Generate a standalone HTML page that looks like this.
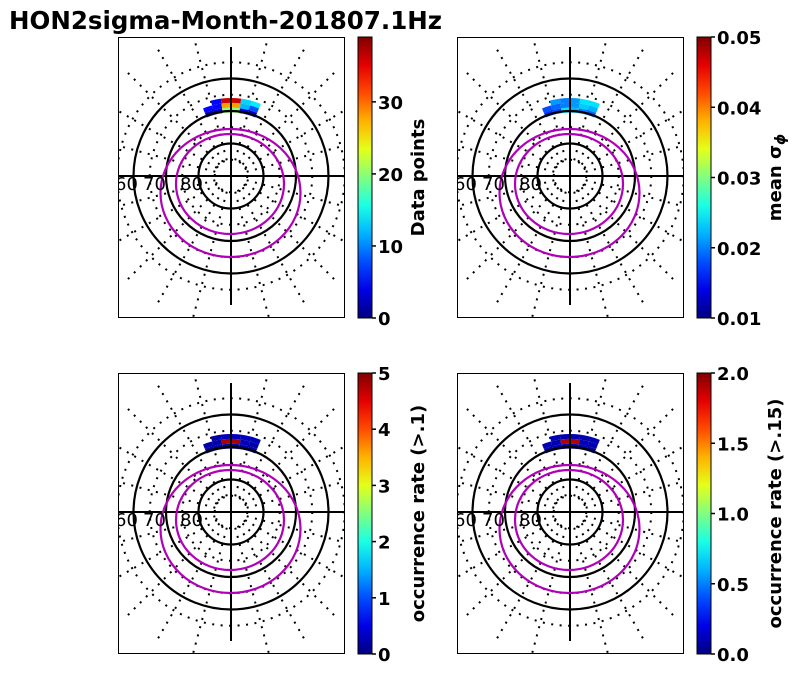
<!DOCTYPE html>
<html><head><meta charset="utf-8"><style>
html,body{margin:0;padding:0;background:#fff;}
svg{display:block;font-family:"DejaVu Sans","Liberation Sans",sans-serif;}
</style></head><body>
<svg id="fig" width="799" height="674" viewBox="0 0 799 674">
<text x="9" y="29" font-size="24.5" font-weight="bold">HON2sigma-Month-201807.1Hz</text>
</svg>
<script>
// shared bin grid: angle bins (deg from noon, clockwise) and latitude rows
const binAngles = [-30, -22.5, -15, -7.5, 0, 7.5, 15];
const binLats = [66, 67.5, 69];
// panel data (rows = latitudes, columns = angle bins)
const countValues = [[null, null, 5, 36, 36, 13, 14],[null, 5, 5, 28, 28, 12, 8],[null, 2, 3, 20, 20, 4, 3]];
const sigmaValues = [[null, null, 0.021, 0.02, 0.021, 0.024, 0.024],[null, 0.018, 0.019, 0.02, 0.021, 0.023, 0.022],[null, 0.017, 0.018, 0.024, 0.022, 0.02, 0.019]];
const occ1Values = [[null, null, 0.2, 0.3, 0.3, 0.3, 0.3],[null, 0.2, 0.2, 4.8, 4.8, 0.3, 0.2],[null, 0.2, 0.2, 0.2, 0.2, 0.2, 0.2]];
const occ2Values = [[null, null, 0.1, 0.1, 0.1, 0.1, 0.1],[null, 0.1, 0.1, 1.9, 1.9, 0.1, 0.1],[null, 0.1, 0.1, 0.1, 0.1, 0.1, 0.1]];
const countTicks = [0, 10, 20, 30];
const sigmaTicks = ["0.01", "0.02", "0.03", "0.04", "0.05"];
const occ1Ticks = [0, 1, 2, 3, 4, 5];
const occ2Ticks = ["0.0", "0.5", "1.0", "1.5", "2.0"];

const NS = "http://www.w3.org/2000/svg";
const svg = document.getElementById('fig');
function mk(tag, attrs, parent) {
  const e = document.createElementNS(NS, tag);
  for (const k in attrs) e.setAttribute(k, attrs[k]);
  (parent || svg).appendChild(e);
  return e;
}
function jet(t) {
  t = Math.max(0, Math.min(1, t));
  const f = x => Math.max(0, Math.min(1, 1.5 - Math.abs(x)));
  const r = f(4 * t - 3), g = f(4 * t - 2), b = f(4 * t - 1);
  return `rgb(${Math.round(r*255)},${Math.round(g*255)},${Math.round(b*255)})`;
}
const SC = 3.25;
function rOf(lat) { return (90 - lat) * SC; }
function pt(cx, cy, r, deg) { const a = deg * Math.PI / 180; return [cx + r * Math.sin(a), cy - r * Math.cos(a)]; }
const DOT = {stroke:'#000', 'stroke-width':2, 'stroke-dasharray':'2 6.5', fill:'none'};

const panels = [
  {x:118, y:37, vals:countValues, vmin:0, vmax:39, ticks:countTicks, label:"Data points", name:"data-points"},
  {x:457, y:37, vals:sigmaValues, vmin:0.01, vmax:0.05, ticks:sigmaTicks, label:"mean σ", sub:"ϕ", name:"mean-sigma"},
  {x:118, y:373, vals:occ1Values, vmin:0, vmax:5, ticks:occ1Ticks, label:"occurrence rate (>.1)", name:"occurrence-1"},
  {x:457, y:373, vals:occ2Values, vmin:0, vmax:2, ticks:occ2Ticks, label:"occurrence rate (>.15)", name:"occurrence-15"}
];
const W = 227, H = 281;
panels.forEach((p, pi) => {
  const cx = p.x + 113, cy = p.y + 139;
  const clip = mk('clipPath', {id:'clip' + pi});
  mk('rect', {x:p.x, y:p.y, width:W, height:H}, clip);
  const g = mk('g', {'clip-path':`url(#clip${pi})`});
  
  
  [85, 75, 65, 55].forEach(l => {
    const c = mk('circle', Object.assign({cx, cy, r:rOf(l)}, DOT), g);
    
    
  });
  for (let a = 0; a < 360; a += 15) {
    if (a % 90 === 0) continue;
    const [x1, y1] = pt(cx, cy, rOf(85), a), [x2, y2] = pt(cx, cy, 150, a);
    const l = mk('line', Object.assign({x1, y1, x2, y2}, DOT), g);
    
    
  }
  p.vals.forEach((row, ri) => {
    row.forEach((v, ci) => {
      if (v === null) return;
      const a0 = binAngles[ci], a1 = a0 + 7.5;
      const r0 = rOf(binLats[ri]), r1 = rOf(binLats[ri] + 1.5);
      const [ax, ay] = pt(cx, cy, r0, a0), [bx, by] = pt(cx, cy, r0, a1), [c1x, c1y] = pt(cx, cy, r1, a1), [dx, dy] = pt(cx, cy, r1, a0);
      const d = `M${ax},${ay} A${r0},${r0} 0 0 1 ${bx},${by} L${c1x},${c1y} A${r1},${r1} 0 0 0 ${dx},${dy} Z`;
      const b = mk('path', {d, fill:jet((v - p.vmin) / (p.vmax - p.vmin))}, g);
      
      
    });
  });
  [80, 70, 60].forEach(l => {
    const c = mk('circle', {cx, cy, r:rOf(l), fill:'none', stroke:'#000', 'stroke-width':2.2}, g);
    
    
  });
  const hl = mk('line', {x1:p.x, y1:cy, x2:p.x + W, y2:cy, stroke:'#000', 'stroke-width':2}, g);
  
  
  const vl = mk('line', {x1:cx, y1:p.y + 10, x2:cx, y2:p.y + 268, stroke:'#000', 'stroke-width':2}, g);
  
  
  const o1 = mk('ellipse', {cx:cx - 1, cy:cy + 8, rx:54, ry:50, fill:'none', stroke:'#b000b8', 'stroke-width':2.2}, g);
  
  
  const o2 = mk('ellipse', {cx:cx - 0.5, cy:cy + 17, rx:70, ry:64, fill:'none', stroke:'#b000b8', 'stroke-width':2.2}, g);
  
  
  [["60", p.x - 3], ["70", p.x + 25], ["80", p.x + 62]].forEach(([t, x]) => {
    const tx = mk('text', {x, y:cy + 14, 'font-size':18}, g);
    tx.textContent = t;
    
    
  });
  const fr = mk('rect', {x:p.x + 0.5, y:p.y + 0.5, width:W - 1, height:H - 1, fill:'none', stroke:'#000', 'stroke-width':1});
  
  
  const bx = p.x + 240, bw = 14;
  const gid = 'jet' + pi;
  const lg = mk('linearGradient', {id:gid, x1:0, y1:1, x2:0, y2:0});
  for (let i = 0; i <= 10; i++) mk('stop', {offset:i / 10, 'stop-color':jet(i / 10)}, lg);
  const cb = mk('rect', {x:bx, y:p.y, width:bw, height:H, fill:`url(#${gid})`, stroke:'#000', 'stroke-width':1});
  
  
  p.ticks.forEach(t => {
    const v = parseFloat(t);
    const y = p.y + H - (v - p.vmin) / (p.vmax - p.vmin) * H;
    mk('line', {x1:bx + bw, y1:y, x2:bx + bw + 4, y2:y, stroke:'#000', 'stroke-width':1.5});
    const tx = mk('text', {x:bx + bw + 6, y:y + 7, 'font-size':18, 'font-weight':'bold'});
    tx.textContent = t;
    
    
  });
  const lx = pi % 2 === 0 ? p.x + 306 : p.x + 324;
  const ly = p.y + H / 2;
  const lab = mk('text', {x:lx, y:ly, 'font-size':18, 'font-weight':'bold', 'text-anchor':'middle', transform:`rotate(-90 ${lx} ${ly})`});
  lab.textContent = p.label;
  if (p.sub) { const s = mk('tspan', {'font-size':14, dy:4, 'font-style':'italic'}, lab); s.textContent = p.sub; }
  
  
});
</script>
</body></html>
